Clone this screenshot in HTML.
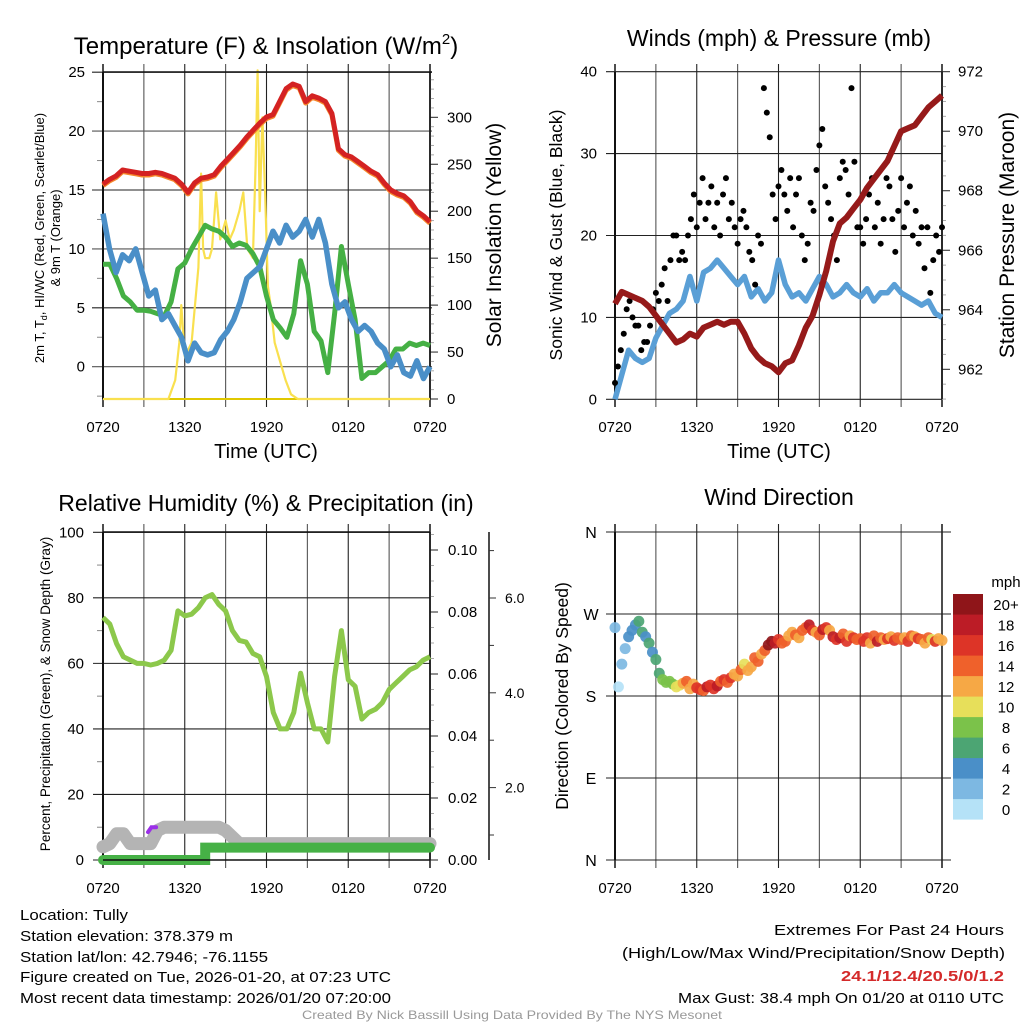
<!DOCTYPE html>
<html><head><meta charset="utf-8">
<style>
html,body{margin:0;padding:0;background:#fff;}
svg{display:block;font-family:"Liberation Sans",sans-serif;}
</style></head>
<body>
<svg id="s" width="1024" height="1024" viewBox="0 0 1024 1024" xmlns="http://www.w3.org/2000/svg">
<rect width="1024" height="1024" fill="#fff"/>
<g id="g"></g>
<text x="266" y="54" font-size="24" text-anchor="middle">Temperature (F) &amp; Insolation (W/m<tspan font-size="15" dy="-10">2</tspan><tspan dy="10">)</tspan></text>
<text x="779" y="46" font-size="23" text-anchor="middle">Winds (mph) &amp; Pressure (mb)</text>
<text x="266" y="511" font-size="23" text-anchor="middle">Relative Humidity (%) &amp; Precipitation (in)</text>
<text x="779" y="505" font-size="23" text-anchor="middle">Wind Direction</text>
<g font-size="15" font-family="'Liberation Sans Narrow','Liberation Sans',sans-serif">
<text x="20" y="920" textLength="108" lengthAdjust="spacingAndGlyphs">Location: Tully</text>
<text x="20" y="941" textLength="213" lengthAdjust="spacingAndGlyphs">Station elevation: 378.379 m</text>
<text x="20" y="962" textLength="248" lengthAdjust="spacingAndGlyphs">Station lat/lon: 42.7946; -76.1155</text>
<text x="20" y="982" textLength="371" lengthAdjust="spacingAndGlyphs">Figure created on Tue, 2026-01-20, at 07:23 UTC</text>
<text x="20" y="1003" textLength="371" lengthAdjust="spacingAndGlyphs">Most recent data timestamp: 2026/01/20 07:20:00</text>
</g>
<g font-size="15" font-family="'Liberation Sans Narrow','Liberation Sans',sans-serif">
<text x="774" y="935" textLength="230" lengthAdjust="spacingAndGlyphs">Extremes For Past 24 Hours</text>
<text x="622" y="958" textLength="383" lengthAdjust="spacingAndGlyphs">(High/Low/Max Wind/Precipitation/Snow Depth)</text>
<text x="841" y="981" textLength="163" lengthAdjust="spacingAndGlyphs" fill="#d42a2a" font-weight="bold">24.1/12.4/20.5/0/1.2</text>
<text x="678" y="1003" textLength="326" lengthAdjust="spacingAndGlyphs">Max Gust: 38.4 mph On 01/20 at 0110 UTC</text>
</g>
<text x="302" y="1019" font-size="12" fill="#999" textLength="420" lengthAdjust="spacingAndGlyphs">Created By Nick Bassill Using Data Provided By The NYS Mesonet</text>
</svg>
<script>
// ---- data (half-hour steps, 0..24 h from 0720 UTC) ----
const timeLabels = ["0720","1320","1920","0120","0720"];
const airTemp = [15.5,15.9,16.2,16.7,16.6,16.5,16.4,16.4,16.5,16.4,16.2,16.0,15.5,14.8,15.6,16.0,16.1,16.3,17.0,17.6,18.2,18.8,19.5,20.1,20.7,21.2,21.4,22.5,23.6,24.0,23.8,22.5,23.0,22.8,22.5,21.5,18.5,18.0,17.8,17.4,17.0,16.6,16.3,15.6,15.0,14.7,14.5,14.0,13.2,12.8,12.3];
const dewPoint = [8.7,8.7,7.5,6.0,5.5,4.8,4.8,4.7,4.5,4.3,5.5,8.3,8.8,10.0,11.0,12.0,11.7,11.5,11.0,10.2,10.5,10.3,9.6,8.5,6.0,4.0,3.3,2.5,4.5,9.0,7.0,3.0,2.2,-0.5,4.5,10.2,7.0,4.0,-1.0,-0.5,-0.5,0.0,0.5,1.5,1.5,2.0,1.8,2.0,1.8];
const windChill = [13.0,10.0,8.0,9.5,9.0,10.0,8.0,6.0,6.5,4.0,4.5,3.5,2.5,0.5,2.0,1.2,1.0,1.2,2.3,3.0,4.0,5.5,7.5,8.0,8.5,10.0,11.5,10.5,12.0,11.0,11.5,12.5,11.0,12.5,10.5,7.0,5.0,5.5,4.0,3.0,3.5,3.0,2.0,1.5,0.0,1.0,-0.5,-0.8,0.5,-1.0,0.0];
const solarHours = [0,4.8,5.3,5.6,5.75,6.0,6.5,7.0,7.2,7.35,7.5,7.8,8.0,8.3,8.6,9.0,9.3,9.6,10.0,10.3,10.6,11.0,11.2,11.35,11.5,11.7,11.9,12.1,12.3,12.6,13.0,13.4,13.8,14.3,24];
const solarValues = [0,0,20,60,100,45,60,140,240,160,150,150,160,220,170,190,170,180,200,220,160,150,250,350,200,300,220,120,100,60,40,20,5,0,0];
const windSpeed = [0,3,6,5,4.5,5,7.5,9,10.5,11,12,15,12,15.5,16,17,16,15,14,15,12.5,13.5,12,13,17,14,12.5,13,12,13.5,15,14,12.5,13,14,13,12.5,13.5,12,13,13,14,13,12.5,12,11.5,12,10.5,10];
const windGust = [2,4,6,8,11,12,10,9,9,6,7,7,9,11,13,12,14,16,12,17,20,20,17,18,17,20,22,25,21,24,27,22,24,26,21,24,20,25,27,22,24,21,19,22,23,21,18,17,14,20,19,38,35,32,25,22,26,28,25,23,27,21,25,27,20,17,19,24,23,28,31,33,26,24,22,20,17,27,29,28,25,38,29,21,21,19,22,25,27,21,24,19,22,27,26,22,18,23,27,21,24,26,20,23,19,21,16,21,13,17,20,18,21];
const pressure = [964.2,964.6,964.5,964.4,964.3,964.1,963.8,963.5,963.2,962.9,963.0,963.2,963.1,963.4,963.5,963.6,963.5,963.6,963.6,963.2,962.7,962.4,962.2,962.1,961.9,962.2,962.3,962.8,963.4,963.8,964.5,965.3,966.3,966.9,967.1,967.4,967.7,968.1,968.4,968.7,969.0,969.5,970.0,970.1,970.2,970.5,970.8,971.0,971.2];
const relHum = [74,72,66,62,61,60,60,59.5,60,61,64,76,74.5,75,77,80,81,78,76,70,67,66.5,63,62,56,45,40,40,45,57,48,40,40,36,56,70,55,53,43,45,46,48,52,54,56,58,59,61,62];
const snowDepth = [4,5,8,8,5,5,5,5,9,10,10,10,10,10,10,10,10,10,9,7,5,5,5,5,5,5,5,5,5,5,5,5,5,5,5,5,5,5,5,5,5,5,5,5,5,5,5,5,5];
const precipHours = [0,7.5,7.5,24];
const precipValues = [0,0,0.004,0.004];
// wind direction (quarter-hour steps), degrees, and speed mph
const windDir = [255,190,215,232,245,252,258,262,250,245,238,228,220,205,198,195,196,193,190,192,194,196,188,193,189,187,186,190,192,188,191,196,198,195,200,204,202,209,215,208,212,222,218,226,230,236,240,238,242,238,240,246,250,247,244,252,255,258,252,250,247,253,255,252,245,242,244,248,240,246,244,242,243,240,244,238,246,240,244,242,243,245,241,244,242,244,240,246,245,243,242,238,244,242,240,243,241];
const dirSpeed = [1,0,2,2,3,4,4,5,6,4,5,4,5,6,7,8,8,7,9,10,12,13,11,12,15,16,14,17,16,15,17,14,15,13,16,12,11,13,10,12,11,14,13,12,13,19,20,17,15,13,14,12,12,14,11,13,13,17,15,12,14,17,16,12,18,15,17,13,15,11,16,14,13,15,16,12,14,17,13,12,15,11,16,13,14,12,15,13,12,16,14,11,13,10,15,12,11];
const speedBins = ["0","2","4","6","8","10","12","14","16","18","20+"];
const snowLabels = ["2.0","4.0","6.0"];
const binColors = ["#b5e2f7","#7db8e2","#4a8fc8","#4ca573","#7bc24a","#e7df5a","#f6a845","#ef612b","#dd3427","#bc1c26","#8f1519"];

const NS="http://www.w3.org/2000/svg";
const G=document.getElementById('g');
function mk(tag,attrs,parent){const e=document.createElementNS(NS,tag);for(const k in attrs)e.setAttribute(k,attrs[k]);(parent||G).appendChild(e);return e;}
function txt(x,y,s,size,anchor,parent,extra){const e=mk('text',Object.assign({x:x,y:y,'font-size':size,'text-anchor':anchor||'middle'},extra||{}),parent);e.textContent=s;return e;}
function pathFrom(xs,ys){let d='';for(let i=0;i<xs.length;i++)d+=(i?'L':'M')+xs[i].toFixed(1)+' '+ys[i].toFixed(1);return d;}

function panel(o){
  const g=mk('g',{});
  
  
  const X=h=>o.x0+h/24*(o.x1-o.x0);
  for(let i=0;i<=8;i++){const x=X(i*3);
    const l=mk('line',{x1:x,x2:x,y1:o.yTop-8,y2:o.yBot+8,stroke:(i%2? '#555':'#222'),'stroke-width':i==0||i==8?1.6:1.1},g);
    }
  for(let i=0;i<5;i++){const t=txt(X(i*6),o.yBot+33,timeLabels[i],15,'middle',g);
    }
  return {g:g,X:X};
}

// ===== Panel 1: temperature =====
(function(){
  const o={name:'temperature-panel',x0:103,x1:430,yTop:72,yBot:399};
  const P=panel(o),g=P.g,X=P.X;
  const Y=v=>366.7-v*11.78;
  const YS=w=>399-w*0.939;
  for(let v=-2.5;v<=25;v+=2.5){const y=Y(v);
    if(v%5===0){mk('line',{x1:92,x2:432,y1:y,y2:y,stroke:(v%10? '#222':'#555'),'stroke-width':1.1},g);
      const t=txt(85,y+5,String(v),15,'end',g);}
    else mk('line',{x1:97,x2:103,y1:y,y2:y,stroke:'#888'},g);}
  for(let w=0;w<=340;w+=10){const y=YS(w);const maj=w%50===0;
    mk('line',{x1:430,x2:maj?438:434,y1:y,y2:y,stroke:maj?'#222':'#aaa'},g);
    if(maj){const t=txt(447,y+5,String(w),15,'start',g);}}
  mk('line',{x1:103,x2:430,y1:399,y2:399,stroke:'#e0c800','stroke-width':2},g);
  mk('line',{x1:430,x2:430,y1:72,y2:399,stroke:'#111','stroke-width':1.5},g);
  mk('line',{x1:103,x2:103,y1:72,y2:399,stroke:'#111','stroke-width':2},g);
  const hs=a=>a.map((_,i)=>X(i*24/(a.length-1)));
  let p=mk('path',{d:pathFrom(solarHours.map(X),solarValues.map(YS)),fill:'none',stroke:'#f9e04f','stroke-width':2.2,'stroke-linejoin':'round'},g);
  
  p=mk('path',{d:pathFrom(hs(dewPoint),dewPoint.map(Y)),fill:'none',stroke:'#45b044','stroke-width':5,'stroke-linejoin':'round'},g);
  
  p=mk('path',{d:pathFrom(hs(windChill),windChill.map(Y)),fill:'none',stroke:'#4a8fc8','stroke-width':5.5,'stroke-linejoin':'round'},g);
  
  p=mk('path',{d:pathFrom(hs(airTemp),airTemp.map(v=>Y(v)+1.5)),fill:'none',stroke:'#f5872b','stroke-width':5,'stroke-linejoin':'round'},g);
  
  p=mk('path',{d:pathFrom(hs(airTemp),airTemp.map(Y)),fill:'none',stroke:'#d42222','stroke-width':5,'stroke-linejoin':'round'},g);
  
  mk('line',{x1:103,x2:432,y1:72,y2:72,stroke:'#111','stroke-width':1.5},g);
  let t=txt(266,458,'Time (UTC)',20,'middle',g);
  t=txt(0,0,'Solar Insolation (Yellow)',21,'middle',g,{transform:'translate(501,235) rotate(-90)'});
  t=mk('text',{'font-size':13,'text-anchor':'middle',transform:'translate(44,238) rotate(-90)'},g);
  t.innerHTML='2m T, T<tspan font-size="9" dy="3">d</tspan><tspan dy="-3">, HI/WC (Red, Green, Scarlet/Blue)</tspan>';
  
  t=txt(0,0,'& 9m T (Orange)',13,'middle',g,{transform:'translate(60,238) rotate(-90)'});
})();

// ===== Panel 2: winds =====
(function(){
  const o={name:'winds-panel',x0:615,x1:942,yTop:72,yBot:399};
  const P=panel(o),g=P.g,X=P.X;
  const Y=v=>399.3-v*8.19;
  const YP=p=>71.7+(972-p)*29.76;
  for(let v=0;v<=40;v+=10){const y=Y(v);
    mk('line',{x1:606,x2:942,y1:y,y2:y,stroke:'#222','stroke-width':1.1},g);
    const t=txt(597,y+5,String(v),15,'end',g);}
  for(let p=961;p<=972;p+=0.5){const y=YP(p);const maj=(p%2===0);
    mk('line',{x1:942,x2:maj?950:946,y1:y,y2:y,stroke:maj?'#222':'#aaa'},g);
    if(maj){const t=txt(958,y+5,String(p),15,'start',g);}}
  mk('line',{x1:942,x2:942,y1:72,y2:399,stroke:'#111','stroke-width':1.5},g);
  mk('line',{x1:615,x2:615,y1:72,y2:399,stroke:'#111','stroke-width':2},g);
  const hs=a=>a.map((_,i)=>X(i*24/(a.length-1)));
  let p=mk('path',{d:pathFrom(hs(windSpeed),windSpeed.map(Y)),fill:'none',stroke:'#5a9fd6','stroke-width':5.5,'stroke-linejoin':'round'},g);
  
  windGust.forEach((v,i)=>{const c=mk('circle',{cx:X(i*24/(windGust.length-1)),cy:Y(v),r:3,fill:'#000'},g);
    
    });
  p=mk('path',{d:pathFrom(hs(pressure),pressure.map(YP)),fill:'none',stroke:'#961a1a','stroke-width':6,'stroke-linejoin':'round'},g);
  
  let t=txt(779,458,'Time (UTC)',20,'middle',g);
  t=txt(0,0,'Sonic Wind & Gust (Blue, Black)',17.5,'middle',g,{transform:'translate(562,235) rotate(-90)'});
  t=txt(0,0,'Station Pressure (Maroon)',21,'middle',g,{transform:'translate(1014,235) rotate(-90)'});
})();

// ===== Panel 3: RH =====
(function(){
  const o={name:'humidity-panel',x0:103,x1:430,yTop:532,yBot:860};
  const P=panel(o),g=P.g,X=P.X;
  const Y=v=>860-v*3.277;
  const YPr=v=>860-v*3100;
  for(let v=0;v<=100;v+=10){const y=Y(v);
    if(v%20===0){mk('line',{x1:93,x2:430,y1:y,y2:y,stroke:'#222','stroke-width':1.1},g);
      const t=txt(84,y+5,String(v),15,'end',g);}
    else mk('line',{x1:97,x2:103,y1:y,y2:y,stroke:'#888'},g);}
  for(let v=0;v<=0.1051;v+=0.005){const y=YPr(v);const maj=Math.round(v*1000)%20===0;
    mk('line',{x1:430,x2:maj?438:434,y1:y,y2:y,stroke:maj?'#222':'#aaa'},g);
    if(maj){const t=txt(448,y+5,v.toFixed(2),15,'start',g);}}
  mk('line',{x1:430,x2:430,y1:532,y2:860,stroke:'#111','stroke-width':1.5},g);
  mk('line',{x1:103,x2:103,y1:532,y2:860,stroke:'#111','stroke-width':2},g);
  mk('line',{x1:489,x2:489,y1:532,y2:860,stroke:'#111','stroke-width':1.5},g);
  for(let i=0;i<7;i++){const y=835-i*47.4;const maj=i%2===1;
    mk('line',{x1:489,x2:maj?496:494,y1:y,y2:y,stroke:'#333'},g);
    if(maj){const t=txt(505,y+5,snowLabels[(i-1)/2],14,'start',g);}}
  const hs=a=>a.map((_,i)=>X(i*24/(a.length-1)));
  let p=mk('path',{d:pathFrom(hs(snowDepth),snowDepth.map(Y)),fill:'none',stroke:'#b4b4b4','stroke-width':13,'stroke-linejoin':'round','stroke-linecap':'round'},g);
  
  p=mk('path',{d:pathFrom([X(3.3),X(3.55),X(3.9)],[Y(8.5),Y(10),Y(10)]),fill:'none',stroke:'#9b30e8','stroke-width':4,'stroke-linecap':'round'},g);
  
  p=mk('path',{d:pathFrom(precipHours.map(X),precipValues.map(YPr)),fill:'none',stroke:'#46b146','stroke-width':10,'stroke-linecap':'round'},g);
  
  p=mk('path',{d:pathFrom(hs(relHum),relHum.map(Y)),fill:'none',stroke:'#8cc84b','stroke-width':5,'stroke-linejoin':'round'},g);
  
  mk('line',{x1:103,x2:430,y1:532,y2:532,stroke:'#111','stroke-width':1.5},g);
  mk('line',{x1:103,x2:430,y1:860,y2:860,stroke:'#111','stroke-width':1.5},g);
  const t=txt(0,0,'Percent, Precipitation (Green), & Snow Depth (Gray)',13.5,'middle',g,{transform:'translate(50,694) rotate(-90)'});
})();

// ===== Panel 4: wind direction =====
(function(){
  const o={name:'direction-panel',x0:615,x1:942,yTop:532,yBot:860};
  const P=panel(o),g=P.g,X=P.X;
  const Y=d=>860-d/360*328;
  const dirLabels=["N","E","S","W","N"];
  for(let i=0;i<5;i++){const y=Y(i*90);
    mk('line',{x1:606,x2:951,y1:y,y2:y,stroke:'#222','stroke-width':1.1},g);
    const t=txt(591,y+6,dirLabels[i],16,'middle',g);}
  mk('line',{x1:615,x2:615,y1:532,y2:860,stroke:'#111','stroke-width':2},g);
  windDir.forEach((d,i)=>{const b=Math.min(10,Math.round(dirSpeed[i]/2));
    const c=mk('circle',{cx:X(i*24/(windDir.length-1)),cy:Y(d),r:5.5,fill:binColors[b],opacity:0.92},g);
    
    });
  const cb=mk('g',{},g);
  txt(1006,587,'mph',15,'middle',cb);
  for(let i=0;i<11;i++){const y=594+(10-i)*20.5;
    mk('rect',{x:953,y:y,width:30,height:20.6,fill:binColors[i]},cb);
    txt(1006,y+16,speedBins[i],15,'middle',cb);}
  const t=txt(0,0,'Direction (Colored By Speed)',17.5,'middle',g,{transform:'translate(568,696) rotate(-90)'});
})();
</script>
</body></html>
